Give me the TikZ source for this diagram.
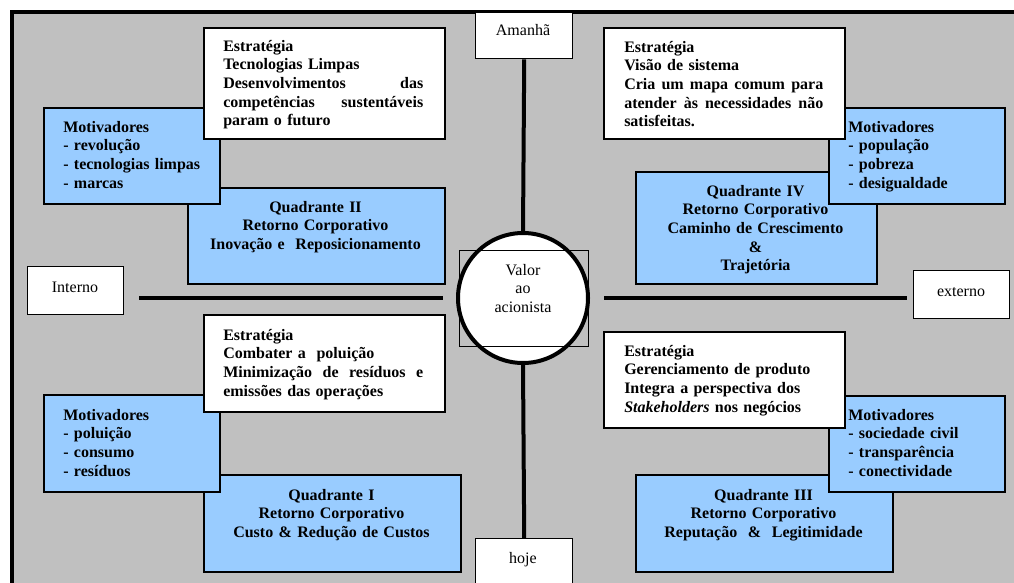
\documentclass[tikz,border=0pt]{standalone}
\usepackage{fontspec}
\setmainfont{Liberation Serif}
\definecolor{panelgray}{HTML}{C0C0C0}
\definecolor{motblue}{HTML}{99CCFF}
% a line set to a given width, spaces stretched evenly
\newcommand\fullline[2]{\leavevmode\hbox to #1{#2}}
\begin{document}
\begin{tikzpicture}[x=0.75pt,y=-0.75pt,
  panel/.style={draw=black, line width=3pt, fill=panelgray},
  axis/.style={line width=3pt},
  whitebox/.style={draw=black, line width=1.5pt, fill=white, inner sep=0pt, anchor=north west},
  bluebox/.style={draw=black, line width=1.5pt, fill=motblue, inner sep=0pt, anchor=north west},
  tagbox/.style={draw=black, line width=1.1pt, fill=white, inner sep=0pt, anchor=north west},
  boldtxt/.style={inner sep=0pt, font=\fontsize{12pt}{14pt}\selectfont\bfseries},
  lefttxt/.style={boldtxt, anchor=base west, align=left},
  centtxt/.style={boldtxt, anchor=base, align=center},
  plaintxt/.style={inner sep=0pt, anchor=base, align=center, text width=90pt, font=\fontsize{12pt}{14pt}\selectfont},
]
\clip (0,0) rectangle (1014,582);
\fill[white] (0,0) rectangle (1014,582);
% outer panel
\draw[panel] (11.5,11.5) rectangle (1030,600);

% axis labels
\node[tagbox, minimum width=97*0.75pt, minimum height=46*0.75pt] (amanha) at (475,12) {};
\node[tagbox, minimum width=97*0.75pt, minimum height=60*0.75pt] (hoje) at (475,538) {};
\node[tagbox, minimum width=96*0.75pt, minimum height=48*0.75pt] (interno) at (27,266) {};
\node[tagbox, minimum width=96*0.75pt, minimum height=48*0.75pt] (externo) at (913,270) {};
\node[plaintxt] (amanha-t) at (523,35.5) {Amanhã};
\node[plaintxt] (hoje-t) at (523,563.5) {hoje};
\node[plaintxt] (interno-t) at (75,292.5) {Interno};
\node[plaintxt] (externo-t) at (961,296) {externo};

% centre: shareholder value
\node[circle, draw=black, line width=3pt, fill=white, minimum size=130*0.75pt, inner sep=0pt] (valor) at (523,298) {};
\node[draw=black, line width=0.75pt, inner sep=0pt, anchor=north west, minimum width=129*0.75pt, minimum height=96*0.75pt] (valorbox) at (459,250) {};
\node[plaintxt] (valor-t) at (523,275) {Valor\\ao\\acionista};

% axes
\draw[axis] (amanha.south) -- (valor.north);
\draw[axis] (valor.south) -- (hoje.north);
\coordinate (hl1) at (139,298);
\coordinate (hl2) at (443,298);
\coordinate (hr1) at (604,298);
\coordinate (hr2) at (907,298);
\draw[axis] (hl1) -- (hl2);
\draw[axis] (hr1) -- (hr2);

% quadrant II (top left)
\node[bluebox, minimum width=257*0.75pt, minimum height=96*0.75pt] (quadII) at (187,187) {};
\node[bluebox, minimum width=176*0.75pt, minimum height=96*0.75pt] (motTL) at (43,107) {};
\node[whitebox, minimum width=241*0.75pt, minimum height=111*0.75pt] (estTL) at (203,27) {};
\node[centtxt, text width=257*0.75pt] (quadII-t) at (315.5,212) {Quadrante II\\Retorno Corporativo\\Inovação e\ \ Reposicionamento};
\node[lefttxt, text width=120pt] (motTL-t) at (63,132) {Motivadores\\- revolução\\- tecnologias limpas\\- marcas};
\node[lefttxt, text width=150pt] (estTL-t) at (223,51) {Estratégia\\Tecnologias Limpas\\\fullline{150pt}{Desenvolvimentos\hfill das}\\\fullline{150pt}{competências\hfill sustentáveis}\\param o futuro};

% quadrant IV (top right)
\node[bluebox, minimum width=241*0.75pt, minimum height=112*0.75pt] (quadIV) at (635,171) {};
\node[bluebox, minimum width=176*0.75pt, minimum height=96*0.75pt] (motTR) at (828,107) {};
\node[whitebox, minimum width=241*0.75pt, minimum height=111*0.75pt] (estTR) at (603,27) {};
\node[centtxt, text width=241*0.75pt] (quadIV-t) at (755.5,196) {Quadrante IV\\Retorno Corporativo\\Caminho de Crescimento\\\&\\Trajetória};
\node[lefttxt, text width=120pt] (motTR-t) at (848,132) {Motivadores\\- população\\- pobreza\\- desigualdade};
\node[lefttxt, text width=149.25pt] (estTR-t) at (624,52) {Estratégia\\Visão de sistema\\\fullline{149.25pt}{Cria\hfill um\hfill mapa\hfill comum\hfill para}\\\fullline{149.25pt}{atender\hfill às\hfill necessidades\hfill não}\\satisfeitas.};

% quadrant I (bottom left)
\node[bluebox, minimum width=257*0.75pt, minimum height=97*0.75pt] (quadI) at (203,474) {};
\node[bluebox, minimum width=176*0.75pt, minimum height=97*0.75pt] (motBL) at (43,394) {};
\node[whitebox, minimum width=241*0.75pt, minimum height=97*0.75pt] (estBL) at (203,314) {};
\node[centtxt, text width=257*0.75pt] (quadI-t) at (331.5,500) {Quadrante I\\Retorno Corporativo\\Custo \& Redução de Custos};
\node[lefttxt, text width=120pt] (motBL-t) at (63,420) {Motivadores\\- poluição\\- consumo\\- resíduos};
\node[lefttxt, text width=150pt] (estBL-t) at (223,340) {Estratégia\\Combater a\ \ poluição\\\fullline{150pt}{Minimização\hfill de\hfill resíduos\hfill e}\\emissões das operações};

% quadrant III (bottom right)
\node[bluebox, minimum width=257*0.75pt, minimum height=97*0.75pt] (quadIII) at (635,474) {};
\node[bluebox, minimum width=176*0.75pt, minimum height=96*0.75pt] (motBR) at (828,395) {};
\node[whitebox, minimum width=241*0.75pt, minimum height=96*0.75pt] (estBR) at (603,331) {};
\node[centtxt, text width=257*0.75pt] (quadIII-t) at (763.5,500) {Quadrante III\\Retorno Corporativo\\Reputação\ \ \&\ \ Legitimidade};
\node[lefttxt, text width=120pt] (motBR-t) at (848,420) {Motivadores\\- sociedade civil\\- transparência\\- conectividade};
\node[lefttxt, text width=150pt] (estBR-t) at (624,356) {Estratégia\\Gerenciamento de produto\\Integra a perspectiva dos\\\textit{Stakeholders} nos negócios};
\end{tikzpicture}
\end{document}
